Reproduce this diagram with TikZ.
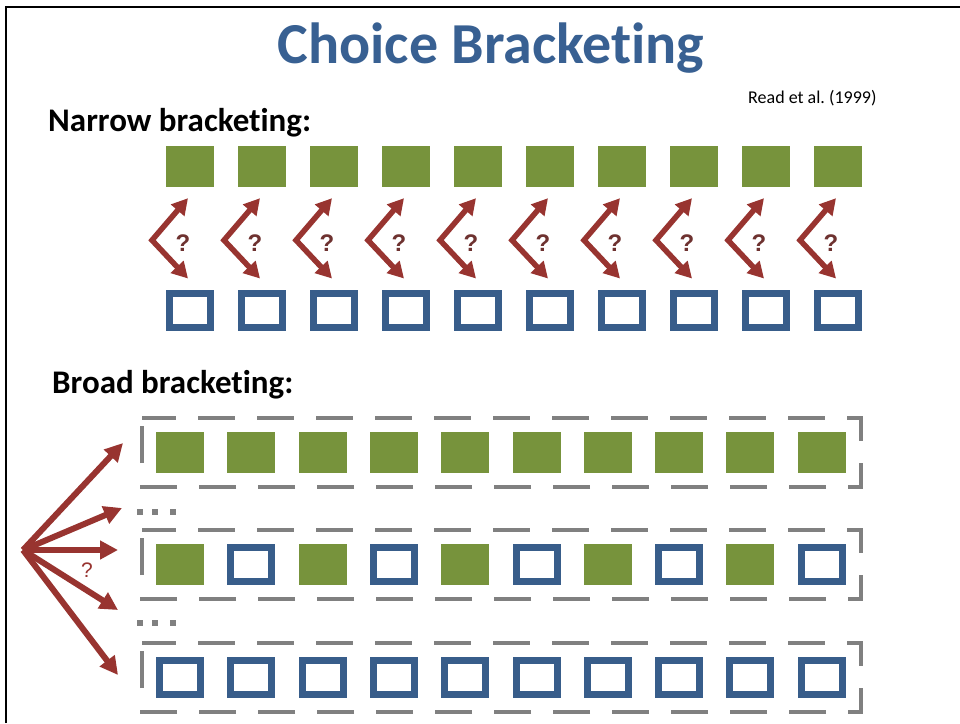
\documentclass[tikz,border=0pt]{standalone}
\usepackage{fontspec}
\setmainfont{Carlito}[Ligatures=NoCommon]
\newfontfamily\qfont{Liberation Sans}
\usetikzlibrary{arrows.meta}
\definecolor{titleblue}{RGB}{56,96,146}
\definecolor{boxgreen}{RGB}{119,147,60}
\definecolor{boxblue}{RGB}{56,93,138}
\definecolor{arrowred}{RGB}{152,52,48}
\definecolor{qmark}{RGB}{110,50,48}
\definecolor{dashgray}{RGB}{128,128,128}
\tikzset{
	full/.style={fill=boxgreen, minimum width=48pt, minimum height=41pt, inner sep=0pt},
	empty/.style={draw=boxblue, line width=7pt, fill=white, minimum width=41pt, minimum height=34pt, inner sep=0pt},
	choice/.style={arrowred, line width=5.5pt, <->, >={Triangle[length=16pt,width=17pt]}},
	pick/.style={arrowred, line width=6pt, ->, >={Triangle[length=18pt,width=18pt]}},
	bracket/.style={dashgray, line width=4pt, dash pattern=on 37pt off 22pt, dash phase=3pt},
	label/.style={inner sep=0pt, anchor=base west},
}
\frenchspacing
\begin{document}
\begin{tikzpicture}[x=1pt,y=-1pt]
\useasboundingbox (0,0) rectangle (960,723);
	% frame
	\draw[line width=2.5pt] (6,723) -- (6,7) -- (960,7);
	% titles
	\node[inner sep=0pt, anchor=base, text=titleblue, font=\fontsize{58}{60}\selectfont\bfseries] (title) at (491,63) {Choice Bracketing};
	\node[label, font=\fontsize{18}{20}\selectfont] (ref) at (748,103) {Read et al.\ (1999)};
	\node[label, font=\fontsize{33}{36}\selectfont\bfseries] (narrow) at (48,131) {Narrow bracketing:};
	\node[label, font=\fontsize{33}{36}\selectfont\bfseries] (broad) at (52,393) {Broad bracketing:};
% narrow: one choice per pair
\foreach \i in {1,...,10} {
	\node[full] (g\i) at (118+72*\i,166.5) {};
	\node[empty] (b\i) at (118+72*\i,310.5) {};
	\draw[choice] ([xshift=-2pt,yshift=-11pt]g\i.south) -- ++(-36,42) -- ([xshift=-2pt,yshift=11.5pt]b\i.north);
	\node[text=qmark, font=\qfont\fontsize{24}{26}\selectfont\bfseries] (q\i) at (111+72*\i,243) {?};
}
	% broad: dashed brackets
	\foreach \y in {452,564,677}
		\draw[bracket] (142,\y-34) -- (861,\y-34) -- (861,\y+35) -- (142,\y+35) -- cycle;
	% rows
	\foreach \i in {1,...,10} {
		\node[full] (a\i) at (108.7+71.3*\i,452) {};
		\node[empty] (c\i) at (108.7+71.3*\i,677) {};
	}
	\foreach \i in {1,3,...,9}
		\node[full] (m\i) at (108.7+71.3*\i,564) {};
	\foreach \i in {2,4,...,10}
		\node[empty] (m\i) at (108.7+71.3*\i,564) {};
	% dots between rows
	\foreach \y in {512,623}
		\foreach \x in {140,155,173}
			\fill[dashgray] (\x-3,\y-3) rectangle ++(6,6);
	% fan of choices
	\coordinate (fan) at (23,550);
	\coordinate (t1) at (123,443);
	\coordinate (t2) at (122,508);
	\coordinate (t3) at (118,550);
	\coordinate (t4) at (118,610);
	\coordinate (t5) at (118,675);
	\foreach \k in {1,...,5}
		\draw[pick] (fan) -- (t\k);
	\node[text=arrowred, font=\qfont\fontsize{21}{23}\selectfont] (qf) at (87,570) {?};
\end{tikzpicture}
\end{document}
